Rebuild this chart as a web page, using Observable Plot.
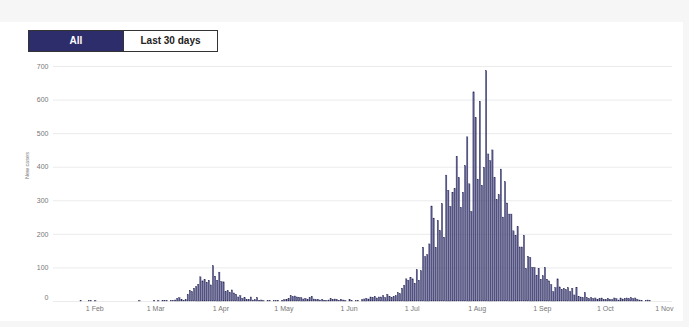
<!DOCTYPE html>
<html><head><meta charset="utf-8">
<script src="https://cdn.jsdelivr.net/npm/d3@7"></script>
<script src="https://cdn.jsdelivr.net/npm/@observablehq/plot@0.6"></script>
<style>
html,body{margin:0;padding:0;background:#f6f6f6;width:689px;height:327px;overflow:hidden;font-family:"Liberation Sans",Arial,sans-serif;}
#card{position:absolute;left:0;top:22px;width:683px;height:299px;background:#fff;}
#buttons{position:absolute;left:28px;top:30px;display:flex;border:1px solid #333;}
.btn{height:20px;line-height:20px;text-align:center;font-size:10px;font-weight:bold;}
#chart{position:absolute;left:0;top:56px;}
</style></head><body>
<div id="card"></div>
<div id="buttons"><div class="btn" style="width:94px;background:#2d2d6b;color:#fff">All</div><div class="btn" style="width:93px;background:#fff;color:#222;border-left:1px solid #333">Last 30 days</div></div>
<div id="chart"></div>
<script>
// Daily new cases, 2020
const jan = [1,0,0,0,1,1,0];                 // 25–31 Jan
const feb = [1,0,0,0,0,0,0,0,0,0,0,0,0,0,0,0,0,0,0,0,0,1,0,0,0,0,0,0,1];
const mar = [0,1,0,2,1,1,0,2,2,3,8,10,5,2,4,20,32,28,38,43,50,72,60,64,56,62,48,105,74,62,86];
const apr = [58,57,28,31,26,33,24,20,12,16,8,10,4,5,12,3,4,10,2,3,1,0,2,1,0,1,1,2,0,2];
const may = [4,5,8,16,13,15,12,11,10,6,8,5,10,14,6,4,5,3,5,2,1,3,7,5,6,4,2,5,3,1,0];
const jun = [4,1,0,1,2,0,4,6,8,6,12,10,14,9,12,12,16,10,20,14,11,14,16,25,22,38,47,66,62,70];
const jul = [66,53,93,62,90,160,132,138,170,283,247,160,240,210,290,190,375,330,282,324,335,431,368,279,324,403,489,349,267,623,546];
const aug = [363,595,345,398,686,438,418,450,368,302,317,393,250,355,292,259,259,209,196,221,161,161,196,97,133,130,100,100,77,97,65];
const sep = [75,100,65,60,49,28,40,66,42,35,38,34,40,28,38,18,41,14,12,10,25,10,7,10,7,9,5,7,9,5];
const oct = [5,8,5,4,9,7,3,9,6,8,9,7,10,7,9,5,3,2,0,2,3,1];

const series = [
  {month: 0, firstDay: 25, values: jan},
  {month: 1, firstDay: 1, values: feb},
  {month: 2, firstDay: 1, values: mar},
  {month: 3, firstDay: 1, values: apr},
  {month: 4, firstDay: 1, values: may},
  {month: 5, firstDay: 1, values: jun},
  {month: 6, firstDay: 1, values: jul},
  {month: 7, firstDay: 1, values: aug},
  {month: 8, firstDay: 1, values: sep},
  {month: 9, firstDay: 1, values: oct}
];
const yTicks = [0,100,200,300,400,500,600,700];
const xTickMonths = [1,2,3,4,5,6,7,8,9,10]; // 1 Feb ... 1 Nov

const DAY = 864e5;
const rows = [];
for (const s of series) s.values.forEach((v, i) => rows.push({date: new Date(Date.UTC(2020, s.month, s.firstDay + i)), cases: v}));
const xTicks = xTickMonths.map(m => new Date(Date.UTC(2020, m, 1)));

const feb1 = +xTicks[0];
const pxPerDay = 2.101, feb1X = 94.3, left = 53, right = 672;
const domain = [new Date(feb1 - (feb1X - left) / pxPerDay * DAY), new Date(feb1 + (right - feb1X) / pxPerDay * DAY)];
const fmt = d3.utcFormat("%-d %b");

const chart = Plot.plot({
  width: 689, height: 266,
  marginLeft: 53, marginRight: 17, marginTop: 10, marginBottom: 21,
  style: {fontFamily: "'Liberation Sans', Arial, sans-serif", fontSize: "7px", color: "#777", background: "transparent", overflow: "visible"},
  x: {type: "utc", domain},
  y: {domain: [0, 700]},
  marks: [
    Plot.gridY(yTicks, {stroke: "#ebebeb", strokeOpacity: 1}),
    Plot.rectY(rows, {x1: "date", x2: d => new Date(+d.date + DAY), y: "cases", fill: "#56568c", stroke: "#2a2a58", strokeWidth: 0.35, insetLeft: 0.4, insetRight: 0.4}),
    Plot.axisY(yTicks.filter(t => t > 0), {tickSize: 0, tickPadding: 5, label: null}),
    Plot.axisY([0], {tickSize: 0, tickPadding: 5, dy: -4, label: null}),
    Plot.axisX(xTicks.slice(0, -1), {tickSize: 0, tickPadding: 5, tickFormat: fmt, label: null}),
    Plot.axisX(xTicks.slice(-1), {tickSize: 0, tickPadding: 5, tickFormat: fmt, textAnchor: "end", dx: 3, label: null}),
    Plot.text(["New cases"], {frameAnchor: "left", rotate: -90, dx: -26, dy: -5, fontSize: 5.5, fill: "#777"})
  ]
});
document.getElementById("chart").appendChild(chart);
</script></body></html>
